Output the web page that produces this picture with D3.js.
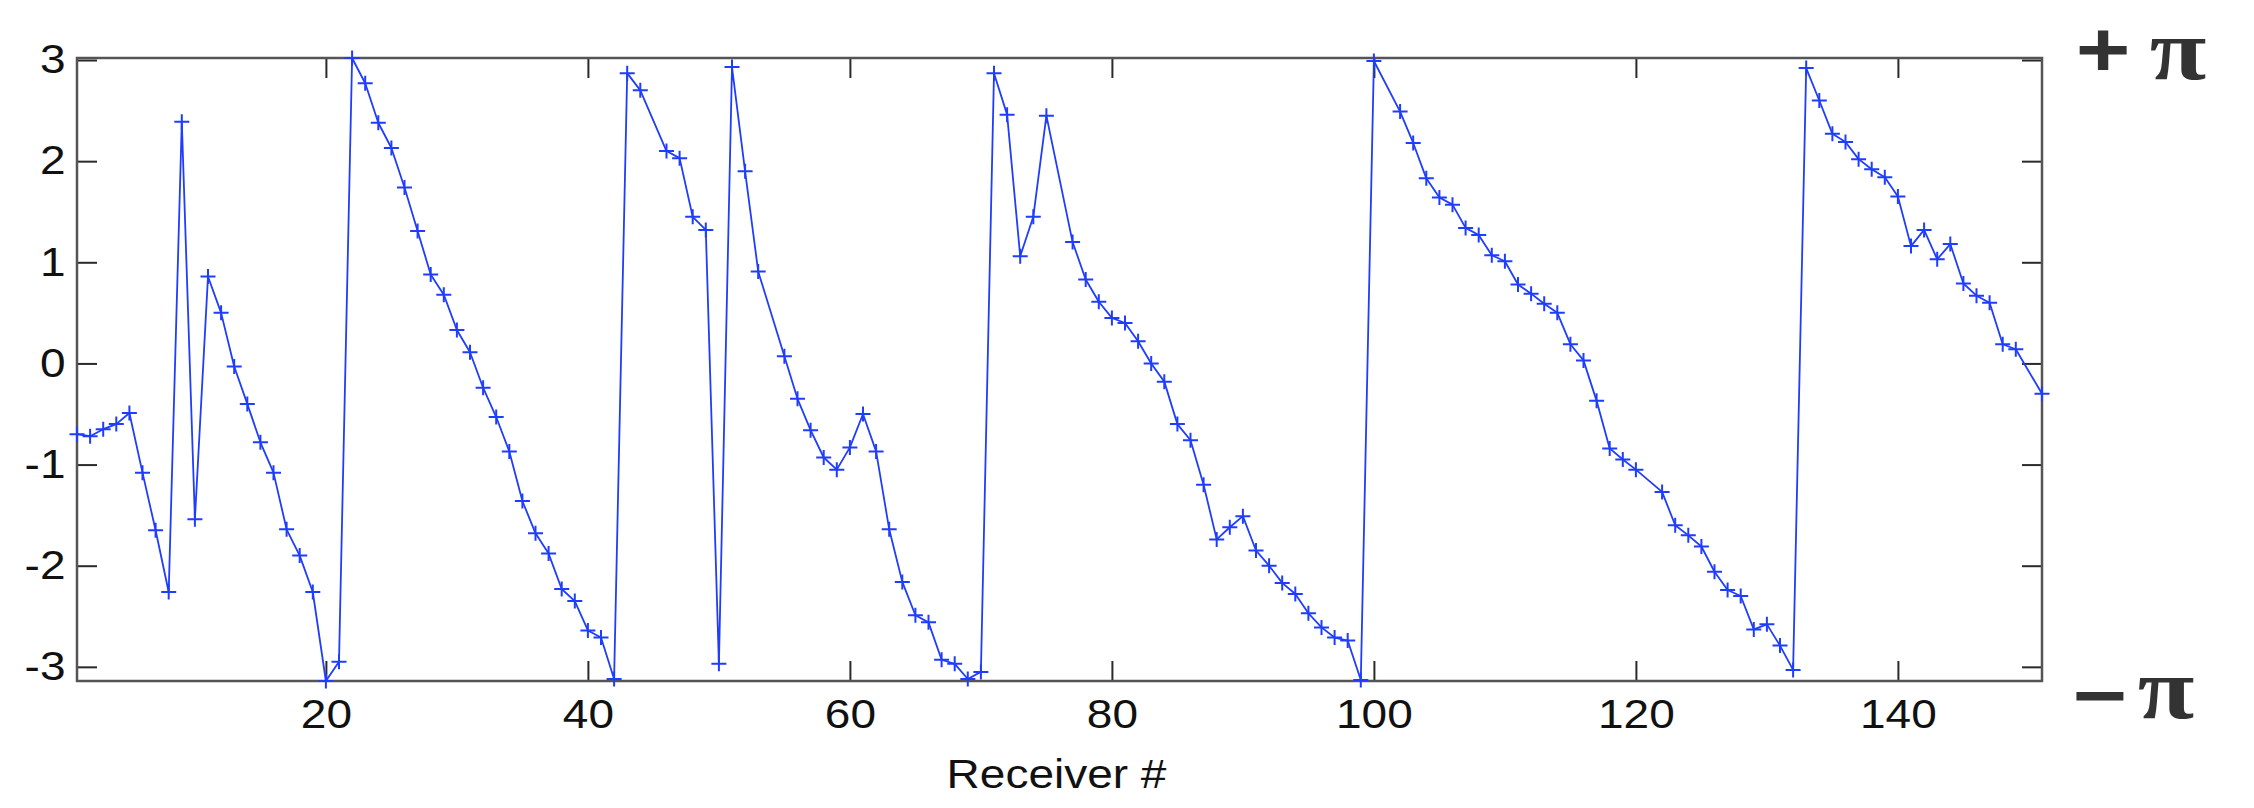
<!DOCTYPE html>
<html>
<head>
<meta charset="utf-8">
<script src="https://cdn.jsdelivr.net/npm/d3@7"></script>
<style>
  html, body { margin: 0; padding: 0; background: #fff; }
  svg { display: block; }
</style>
</head>
<body>
<svg id="chart" width="2254" height="808"></svg>
<script>
// Receiver numbers (dead channels 45, 54, 76, 101, 121, 150 are absent)
const receivers = [
  1, 2, 3, 4, 5, 6, 7, 8, 9, 10,
  11, 12, 13, 14, 15, 16, 17, 18, 19, 20,
  21, 22, 23, 24, 25, 26, 27, 28, 29, 30,
  31, 32, 33, 34, 35, 36, 37, 38, 39, 40,
  41, 42, 43, 44, 46, 47, 48, 49, 50,
  51, 52, 53, 55, 56, 57, 58, 59, 60,
  61, 62, 63, 64, 65, 66, 67, 68, 69, 70,
  71, 72, 73, 74, 75, 77, 78, 79, 80,
  81, 82, 83, 84, 85, 86, 87, 88, 89, 90,
  91, 92, 93, 94, 95, 96, 97, 98, 99, 100,
  102, 103, 104, 105, 106, 107, 108, 109, 110,
  111, 112, 113, 114, 115, 116, 117, 118, 119, 120,
  122, 123, 124, 125, 126, 127, 128, 129, 130,
  131, 132, 133, 134, 135, 136, 137, 138, 139, 140,
  141, 142, 143, 144, 145, 146, 147, 148, 149, 151
];

// Wrapped phase (radians) at each receiver
const phase = [
  -0.70, -0.72, -0.65, -0.60, -0.49, -1.08, -1.65, -2.26, 2.39, -1.54,
  0.86, 0.50, -0.03, -0.40, -0.78, -1.08, -1.64, -1.90, -2.26, -3.14,
  -2.95, 3.02, 2.77, 2.38, 2.13, 1.74, 1.31, 0.88, 0.68, 0.33,
  0.11, -0.24, -0.53, -0.87, -1.36, -1.68, -1.88, -2.23, -2.35, -2.64,
  -2.71, -3.12, 2.87, 2.70, 2.10, 2.03, 1.45, 1.32, -2.97,
  2.93, 1.90, 0.91, 0.07, -0.35, -0.66, -0.93, -1.05, -0.83,
  -0.50, -0.87, -1.64, -2.16, -2.49, -2.56, -2.93, -2.97, -3.12, -3.05,
  2.87, 2.46, 1.06, 1.45, 2.45, 1.20, 0.83, 0.61, 0.45,
  0.40, 0.22, 0.00, -0.18, -0.60, -0.76, -1.20, -1.74, -1.62, -1.51,
  -1.85, -2.00, -2.17, -2.28, -2.47, -2.61, -2.71, -2.74, -3.13, 2.99,
  2.49, 2.18, 1.83, 1.64, 1.57, 1.34, 1.27, 1.07, 1.01,
  0.78, 0.69, 0.59, 0.50, 0.19, 0.03, -0.37, -0.84, -0.95, -1.05,
  -1.27, -1.60, -1.70, -1.81, -2.06, -2.24, -2.30, -2.63, -2.58,
  -2.79, -3.03, 2.92, 2.60, 2.27, 2.19, 2.02, 1.92, 1.84, 1.65,
  1.16, 1.32, 1.03, 1.18, 0.79, 0.67, 0.60, 0.19, 0.14, -0.30
];

const xTicks = [20, 40, 60, 80, 100, 120, 140];
const yTicks = [-3, -2, -1, 0, 1, 2, 3];
const xLabel = "Receiver #";
const piSigns = ["+", "\u2212"];
const piSymbol = "\u03C0";

const W = 2254, H = 808;
const margin = { left: 77, right: 212, top: 58, bottom: 127 };
const plotW = W - margin.left - margin.right;
const plotH = H - margin.top - margin.bottom;

const svg = d3.select("#chart");
const g = svg.append("g").attr("transform", `translate(${margin.left},${margin.top})`);

const x = d3.scaleLinear().domain(d3.extent(receivers)).range([0, plotW]);
const y = d3.scaleLinear().domain(d3.extent(phase)).range([plotH, 0]);

const points = receivers.map((r, i) => ({ r, v: phase[i] }));

const textStretch = 1.15;
const tickFont = "'Liberation Sans', Helvetica, Arial, sans-serif";
const tickLen = 20;
const plainInt = d => String(d);   // ASCII hyphen for negatives

function styleAxis(sel, showLabels) {
  sel.select(".domain").remove();
  sel.selectAll(".tick line").attr("stroke", "#2a2a2a").attr("stroke-width", 2);
  if (!showLabels) sel.selectAll(".tick text").remove();
  sel.selectAll(".tick text")
    .attr("fill", "#111")
    .style("font-family", tickFont)
    .style("font-size", "40px");
}

// bottom axis with labels
const gx = g.append("g").attr("transform", `translate(0,${plotH})`)
  .call(d3.axisBottom(x).tickValues(xTicks).tickFormat(plainInt).tickSize(-tickLen).tickPadding(19));
styleAxis(gx, true);
gx.selectAll(".tick text").attr("transform", `scale(${textStretch},1)`);

// top axis, ticks only
const gxt = g.append("g")
  .call(d3.axisTop(x).tickValues(xTicks).tickSize(-tickLen).tickFormat(""));
styleAxis(gxt, false);

// left axis with labels
const gy = g.append("g")
  .call(d3.axisLeft(y).tickValues(yTicks).tickFormat(plainInt).tickSize(-tickLen).tickPadding(10));
styleAxis(gy, true);
gy.selectAll(".tick text").attr("transform", `scale(${textStretch},1)`);

// right axis, ticks only
const gyr = g.append("g").attr("transform", `translate(${plotW},0)`)
  .call(d3.axisRight(y).tickValues(yTicks).tickSize(-tickLen).tickFormat(""));
styleAxis(gyr, false);

// axes box
g.append("rect")
  .attr("x", 0).attr("y", 0).attr("width", plotW).attr("height", plotH)
  .attr("fill", "none").attr("stroke", "#555").attr("stroke-width", 2.5);

// phase trace
const line = d3.line().x(d => x(d.r)).y(d => y(d.v));
g.append("path")
  .datum(points)
  .attr("fill", "none")
  .attr("stroke", "#1f3dff")
  .attr("stroke-width", 1.8)
  .attr("stroke-linejoin", "round")
  .attr("d", line);

// plus-sign markers
const mk = 7.5;
const markers = g.append("g").attr("stroke", "#1f3dff").attr("stroke-width", 2);
markers.selectAll("path.mk")
  .data(points)
  .join("path")
  .attr("class", "mk")
  .attr("d", d => {
    const px = x(d.r), py = y(d.v);
    return `M${px - mk},${py}H${px + mk}M${px},${py - mk}V${py + mk}`;
  });

// x axis title
svg.append("text")
  .attr("transform", `translate(${margin.left + plotW / 2 - 3},${788}) scale(${textStretch},1)`)
  .attr("text-anchor", "middle")
  .attr("fill", "#111")
  .style("font-family", tickFont)
  .style("font-size", "40px")
  .text(xLabel);

// +pi / -pi labels at the ends of the phase range
const piG = svg.append("g").attr("fill", "#333");
const piRows = [
  { sign: piSigns[0], signY: 76, piY: 79, signX: 2103, piX: 2178 },
  { sign: piSigns[1], signY: 722, piY: 718, signX: 2100, piX: 2166 }
];
piRows.forEach(row => {
  piG.append("text")
    .attr("transform", `translate(${row.signX},${row.signY}) scale(1.2,1)`)
    .attr("text-anchor", "middle")
    .style("font-family", "'Liberation Sans', Arial, sans-serif")
    .style("font-weight", "bold")
    .style("font-size", "78px")
    .text(row.sign);
  piG.append("text")
    .attr("transform", `translate(${row.piX},${row.piY}) scale(1.2,1)`)
    .attr("text-anchor", "middle")
    .style("font-family", "'Liberation Serif', 'Times New Roman', serif")
    .style("font-weight", "bold")
    .style("font-size", "86px")
    .text(piSymbol);
});
</script>
</body>
</html>
